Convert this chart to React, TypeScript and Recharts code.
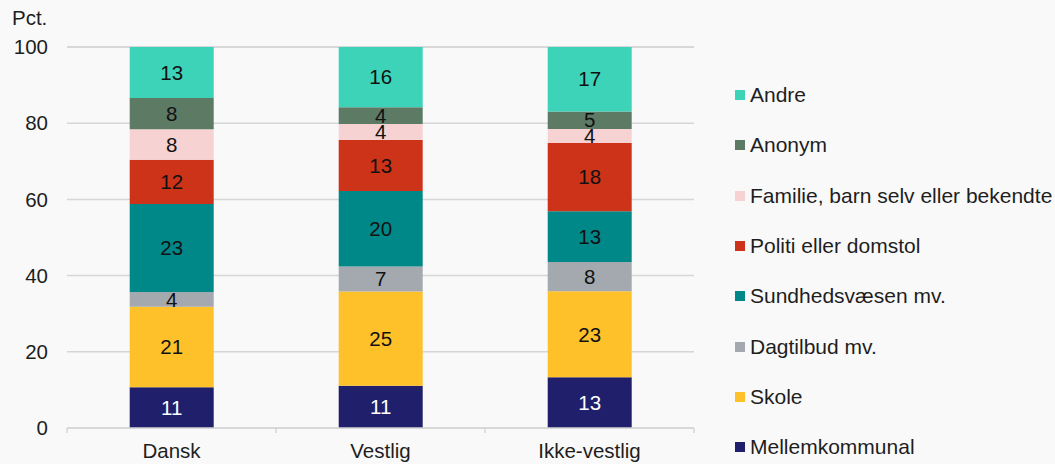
import { BarChart, Bar, XAxis, YAxis, CartesianGrid, LabelList } from 'recharts';

const groups = ['Dansk', 'Vestlig', 'Ikke-vestlig'];

const seriesNames = [
  'Mellemkommunal',
  'Skole',
  'Dagtilbud mv.',
  'Sundhedsvæsen mv.',
  'Politi eller domstol',
  'Familie, barn selv eller bekendte',
  'Anonym',
  'Andre',
];

const seriesColors = ['#1f1f6b', '#ffc12a', '#a3a9ae', '#008788', '#cc3319', '#f7d2d2', '#5d7a65', '#3cd3b9'];

// pct. per series, in group order Dansk / Vestlig / Ikke-vestlig
const mellemkommunal = [10.7, 11.1, 13.3];
const skole = [21.1, 24.7, 22.6];
const dagtilbud = [3.9, 6.6, 7.7];
const sundhed = [23.1, 19.8, 13.3];
const politi = [11.6, 13.4, 17.9];
const familie = [8.0, 4.2, 3.7];
const anonym = [8.2, 4.4, 4.6];
const andre = [13.4, 15.8, 16.9];

const seriesValues = [mellemkommunal, skole, dagtilbud, sundhed, politi, familie, anonym, andre];

const yTicks = [0, 20, 40, 60, 80, 100];

const data = groups.map((g, i) => {
  const row: Record<string, string | number> = { group: g };
  seriesValues.forEach((vals, s) => {
    row['s' + s] = vals[i];
  });
  return row;
});

const font = '"Liberation Sans", Arial, sans-serif';
const textColor = '#1e1e1e';
const gridColor = '#d6d6d6';

const W = 1055;
const H = 464;
const yAxisW = 67;
const rightM = 361;
const topM = 47;
const xAxisH = 36;
const band = (W - yAxisW - rightM) / groups.length;
const axisY = H - xAxisH;

// category label plus the small separator marks between categories
function GroupTick(props: any) {
  const { x, payload, index } = props;
  const left = x - band / 2;
  return (
    <g>
      <line x1={left} x2={left} y1={axisY} y2={axisY + 5} stroke={gridColor} strokeWidth={1.5} />
      {index === groups.length - 1 && (
        <line x1={x + band / 2} x2={x + band / 2} y1={axisY} y2={axisY + 5} stroke={gridColor} strokeWidth={1.5} />
      )}
      <text x={x} y={axisY + 15} dy="0.71em" textAnchor="middle" fill={textColor} fontSize={20.5} fontFamily={font}>
        {payload.value}
      </text>
    </g>
  );
}

export default function App() {
  return (
    <div style={{ position: 'absolute', left: 0, top: 0, width: W, height: H, background: '#f9f9f9', fontFamily: font, overflow: 'hidden' }}>
      <div style={{ position: 'absolute', left: 12, top: 6, fontSize: 20.5, color: textColor }}>Pct.</div>
      <BarChart width={W} height={H} data={data} margin={{ top: topM, right: rightM, left: 0, bottom: 0 }} barCategoryGap="30%">
        <CartesianGrid vertical={false} stroke={gridColor} strokeWidth={1.5} />
        <XAxis
          dataKey="group"
          height={xAxisH}
          axisLine={{ stroke: gridColor, strokeWidth: 1.5 }}
          tickLine={false}
          tickSize={0}
          tickMargin={0}
          tick={<GroupTick />}
          interval={0}
        />
        <YAxis
          width={yAxisW}
          domain={[0, 100]}
          ticks={yTicks}
          axisLine={false}
          tickLine={false}
          tickSize={0}
          tickMargin={19}
          tick={{ fill: textColor, fontSize: 20.5, fontFamily: font }}
        />
        {seriesNames.map((name, s) => (
          <Bar key={name} dataKey={'s' + s} name={name} stackId="a" fill={seriesColors[s]} isAnimationActive={false}>
            <LabelList
              dataKey={'s' + s}
              position="center"
              formatter={(v: number) => Math.round(v)}
              fill={s === 0 ? '#ffffff' : '#111111'}
              fontSize={20.5}
              fontFamily={font}
            />
          </Bar>
        ))}
      </BarChart>
      <div style={{ position: 'absolute', left: 735, top: 70 }}>
        {seriesNames
          .map((name, s) => ({ name, color: seriesColors[s] }))
          .reverse()
          .map((item) => (
            <div key={item.name} style={{ height: 50.3, display: 'flex', alignItems: 'center', whiteSpace: 'nowrap' }}>
              <span style={{ width: 10, height: 10, background: item.color, marginRight: 5, display: 'inline-block' }} />
              <span style={{ fontSize: 21, color: textColor }}>{item.name}</span>
            </div>
          ))}
      </div>
    </div>
  );
}
